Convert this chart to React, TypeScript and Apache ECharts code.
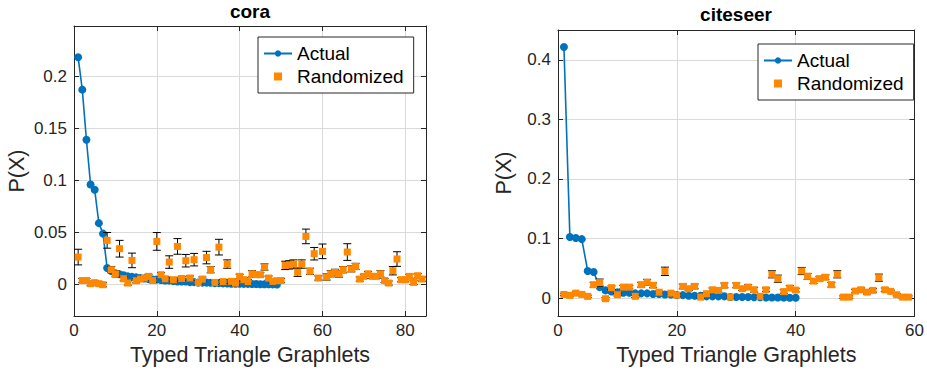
import React, { useEffect, useRef } from "react";
import * as echarts from "echarts";

// ---------- data ----------
const coraActual = [
  0.218, 0.187, 0.139, 0.096, 0.091, 0.059, 0.049, 0.016,
  0.013, 0.011, 0.010, 0.009, 0.008, 0.0075, 0.007, 0.0065, 0.006, 0.0055, 0.005, 0.005,
  0.0045, 0.004, 0.004, 0.0035, 0.003, 0.003, 0.003, 0.0025, 0.0025, 0.002,
  0.002, 0.002, 0.0018, 0.0015, 0.0015, 0.0013, 0.0012, 0.001, 0.001, 0.001,
  0.0008, 0.0008, 0.0007, 0.0006, 0.0005, 0.0005, 0.0004, 0.0003, 0.0002,
];

const coraRandom = [
  0.0265, 0.004, 0.004, 0.001, 0.002, 0.001, 0.0, 0.0425, 0.0144, 0.0105,
  0.0345, 0.0057, 0.0016, 0.0233, 0.0038, 0.0054, 0.0064, 0.008, 0.004, 0.0415,
  0.0096, 0.0057, 0.0217, 0.0048, 0.0367, 0.006, 0.023, 0.0064, 0.024, 0.002,
  0.0054, 0.026, 0.0144, 0.0022, 0.036, 0.003, 0.0198, 0.0032, 0.0016, 0.008,
  0.0048, 0.003, 0.0105, 0.0096, 0.0096, 0.017, 0.0064, 0.0032, 0.0038, 0.004,
  0.0185, 0.019, 0.0198, 0.012, 0.0198, 0.0463, 0.0128, 0.0297, 0.0064, 0.032,
  0.0074, 0.0105, 0.0118, 0.0102, 0.0144, 0.0313, 0.0153, 0.0175, 0.0054, 0.008,
  0.0105, 0.008, 0.008, 0.0105, 0.004, 0.0016, 0.0134, 0.0246, 0.0048, 0.0048,
  0.008, 0.0022, 0.0086, 0.0054,
];

const coraRandomErr = [
  0.0075, 0.002, 0.002, 0.002, 0.002, 0.002, 0.002, 0.0075, 0.003, 0.003,
  0.008, 0.002, 0.002, 0.007, 0.002, 0.002, 0.002, 0.002, 0.002, 0.0085,
  0.002, 0.002, 0.006, 0.002, 0.0075, 0.002, 0.006, 0.002, 0.006, 0.002,
  0.002, 0.006, 0.003, 0.002, 0.0075, 0.002, 0.004, 0.002, 0.002, 0.002,
  0.002, 0.002, 0.003, 0.002, 0.002, 0.003, 0.002, 0.002, 0.002, 0.002,
  0.004, 0.004, 0.004, 0.004, 0.004, 0.007, 0.003, 0.006, 0.002, 0.007,
  0.003, 0.003, 0.003, 0.003, 0.003, 0.008, 0.003, 0.003, 0.002, 0.002,
  0.002, 0.002, 0.002, 0.003, 0.002, 0.002, 0.004, 0.007, 0.002, 0.002,
  0.002, 0.002, 0.002, 0.002,
];

const citeActual = [
  0.4215, 0.1027, 0.101, 0.099, 0.0455, 0.0438, 0.0185, 0.013, 0.011, 0.010,
  0.009, 0.009, 0.008, 0.008, 0.008, 0.007, 0.007, 0.006, 0.006, 0.005,
  0.005, 0.004, 0.004, 0.004, 0.003, 0.003, 0.003, 0.003, 0.002, 0.002,
  0.002, 0.002, 0.0015, 0.0015, 0.001, 0.001, 0.001, 0.0008, 0.0007, 0.0006,
];

const citeRandom = [
  0.0062, 0.0045, 0.0084, 0.0062, 0.0029, 0.0225, 0.026, -0.001, 0.0175, 0.0057,
  0.0185, 0.0185, 0.003, 0.0225, 0.0265, 0.0215, 0.010, 0.045, 0.0084, 0.005,
  0.0197, 0.0158, 0.0197, 0.0017, 0.0074, 0.014, 0.013, 0.0214, 0.0017, 0.0214,
  0.0158, 0.0185, 0.014, 0.003, 0.014, 0.040, 0.0326, 0.011, 0.017, 0.0135,
  0.0455, 0.0365, 0.0286, 0.0326, 0.035, 0.0225, 0.040, 0.0017, 0.0017, 0.0118,
  0.014, 0.010, 0.013, 0.0343, 0.014, 0.0113, 0.0057, 0.0017, 0.0017,
];

const citeRandomErr = [
  0.002, 0.002, 0.002, 0.002, 0.002, 0.004, 0.006, 0.002, 0.003, 0.002,
  0.003, 0.003, 0.002, 0.004, 0.005, 0.004, 0.002, 0.007, 0.002, 0.002,
  0.004, 0.003, 0.004, 0.002, 0.002, 0.003, 0.003, 0.004, 0.002, 0.004,
  0.003, 0.004, 0.004, 0.002, 0.003, 0.006, 0.006, 0.003, 0.004, 0.003,
  0.006, 0.005, 0.004, 0.004, 0.004, 0.004, 0.006, 0.002, 0.002, 0.003,
  0.003, 0.003, 0.003, 0.006, 0.003, 0.002, 0.002, 0.002, 0.002,
];

const titles = ["cora", "citeseer"];
const xName = "Typed Triangle Graphlets";
const yName = "P(X)";
const legendNames = ["Actual", "Randomized"];

// ---------- styles ----------
const FONT = "'Liberation Sans', Arial, Helvetica, sans-serif";
const AX = "#262626";
const GRIDC = "#dadada";
const BLUE = "#0072BD";
const ORANGE = "#FF8800";
const TICK_FS = 17;
const NAME_FS = 21.5;

function makeX(gridIndex: number, max: number, pos: "bottom" | "top") {
  const bottom = pos === "bottom";
  return {
    type: "value",
    gridIndex,
    position: pos,
    min: 0,
    max,
    interval: 20,
    name: bottom ? xName : "",
    nameLocation: "middle",
    nameGap: 28,
    nameTextStyle: { fontSize: NAME_FS, color: AX, fontFamily: FONT },
    axisLine: { show: true, onZero: false, lineStyle: { color: AX, width: 1 } },
    axisTick: { show: true, inside: true, length: 5, lineStyle: { color: AX } },
    axisLabel: {
      show: bottom,
      color: AX,
      fontSize: TICK_FS,
      fontFamily: FONT,
      margin: 6,
      formatter: (v: number) => (Math.abs(v % 20) < 1e-9 ? String(v) : ""),
    },
    splitLine: { show: bottom, lineStyle: { color: GRIDC, width: 1 } },
  };
}

function makeY(gridIndex: number, min: number, max: number, step: number, pos: "left" | "right", gap: number) {
  const left = pos === "left";
  return {
    type: "value",
    gridIndex,
    position: pos,
    min,
    max,
    splitNumber: 5,
    name: left ? yName : "",
    nameLocation: "middle",
    nameGap: gap,
    nameTextStyle: { fontSize: NAME_FS, color: AX, fontFamily: FONT },
    axisLine: { show: true, onZero: false, lineStyle: { color: AX, width: 1 } },
    axisTick: { show: true, inside: true, length: 5, lineStyle: { color: AX } },
    axisLabel: {
      show: left,
      color: AX,
      fontSize: TICK_FS,
      fontFamily: FONT,
      margin: 7,
      formatter: (v: number) => {
        const k = v / step;
        if (Math.abs(k - Math.round(k)) > 1e-6) return "";
        return String(+v.toFixed(2));
      },
    },
    splitLine: { show: left, lineStyle: { color: GRIDC, width: 1 } },
  };
}

function errRender(params: any, api: any) {
  const x = api.value(0);
  const lo = api.coord([x, api.value(1)]);
  const hi = api.coord([x, api.value(2)]);
  const w = 4;
  const st = { stroke: "#000", lineWidth: 1 };
  return {
    type: "group",
    children: [
      { type: "line", shape: { x1: lo[0], y1: lo[1], x2: hi[0], y2: hi[1] }, style: st },
      { type: "line", shape: { x1: lo[0] - w, y1: lo[1], x2: lo[0] + w, y2: lo[1] }, style: st },
      { type: "line", shape: { x1: hi[0] - w, y1: hi[1], x2: hi[0] + w, y2: hi[1] }, style: st },
    ],
  };
}

function plotSeries(idx: number, actual: number[], rand: number[], err: number[]) {
  return [
    {
      type: "line",
      name: legendNames[0],
      xAxisIndex: idx * 2,
      yAxisIndex: idx * 2,
      data: actual.map((v, i) => [i + 1, v]),
      symbol: "circle",
      symbolSize: 8,
      showSymbol: true,
      lineStyle: { color: BLUE, width: 1.6 },
      itemStyle: { color: BLUE },
      z: 2,
    },
    {
      type: "custom",
      name: "err" + idx,
      xAxisIndex: idx * 2,
      yAxisIndex: idx * 2,
      data: rand.map((v, i) => [i + 1, v - err[i], v + err[i]]),
      encode: { x: 0, y: [1, 2] },
      renderItem: errRender,
      z: 3,
    },
    {
      type: "scatter",
      name: legendNames[1],
      xAxisIndex: idx * 2,
      yAxisIndex: idx * 2,
      data: rand.map((v, i) => [i + 1, v]),
      symbol: "rect",
      symbolSize: 7,
      itemStyle: { color: ORANGE, opacity: 1 },
      z: 4,
    },
  ];
}

function makeLegend(left: number, top: number) {
  return {
    orient: "vertical",
    left,
    top,
    data: [
      { name: legendNames[0] },
      { name: legendNames[1], icon: "path://M0,0L1,0L1,1L0,1Z" },
    ],
    selectedMode: false,
    backgroundColor: "#fff",
    borderColor: AX,
    borderWidth: 1,
    borderRadius: 0,
    padding: [7, 10, 7, 5],
    itemGap: 4,
    itemWidth: 28,
    itemHeight: 8,
    textStyle: { fontSize: 19, color: "#000", fontFamily: FONT },
  };
}

export default function App() {
  const ref = useRef<HTMLDivElement>(null);
  useEffect(() => {
    if (!ref.current) return;
    const chart = echarts.init(ref.current, undefined, { renderer: "svg" });
    chart.setOption({
      animation: false,
      backgroundColor: "#fff",
      textStyle: { fontFamily: FONT },
      title: [
        { text: titles[0], left: 250, top: 2, padding: 0, textAlign: "center", textStyle: { fontSize: 19, fontWeight: "bold", color: "#000", fontFamily: FONT } },
        { text: titles[1], left: 736, top: 5, padding: 0, textAlign: "center", textStyle: { fontSize: 19, fontWeight: "bold", color: "#000", fontFamily: FONT } },
      ],
      legend: [makeLegend(258, 37), makeLegend(758, 44)],
      grid: [
        { left: 74, top: 26, width: 352, height: 290 },
        { left: 558, top: 30, width: 357, height: 286 },
      ],
      xAxis: [makeX(0, 85, "bottom"), makeX(0, 85, "top"), makeX(1, 60, "bottom"), makeX(1, 60, "top")],
      yAxis: [
        makeY(0, -0.03, 0.248, 0.05, "left", 46),
        makeY(0, -0.03, 0.248, 0.05, "right", 46),
        makeY(1, -0.03, 0.45, 0.1, "left", 43),
        makeY(1, -0.03, 0.45, 0.1, "right", 43),
      ],
      series: [
        ...plotSeries(0, coraActual, coraRandom, coraRandomErr),
        ...plotSeries(1, citeActual, citeRandom, citeRandomErr),
      ],
    });
    return () => chart.dispose();
  }, []);
  return (
    <div
      ref={ref}
      style={{ position: "absolute", left: 0, top: 0, width: 927, height: 374, background: "#fff" }}
    />
  );
}
